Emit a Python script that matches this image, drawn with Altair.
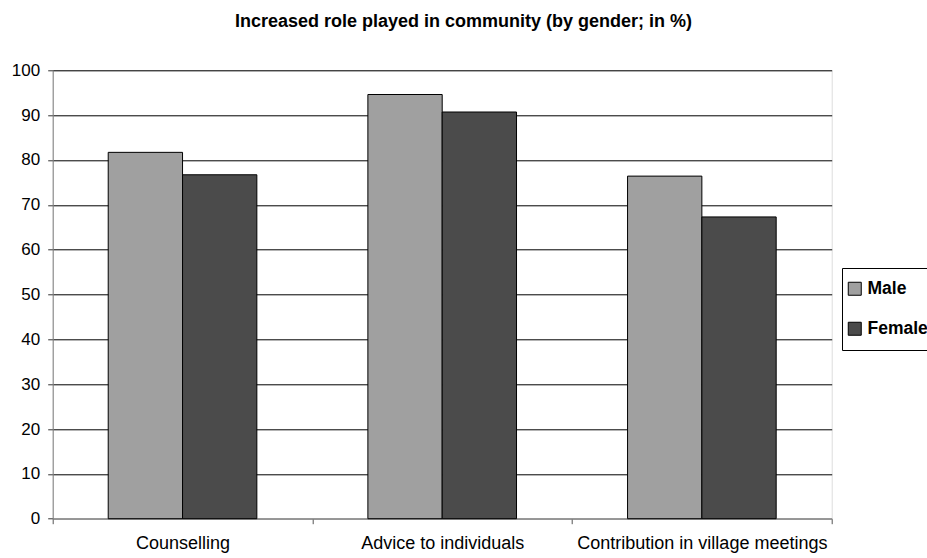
import altair as alt
import pandas as pd

# Share of respondents reporting an increased community role, by gender (%)
categories = ["Counselling", "Advice to individuals", "Contribution in village meetings"]
genders = ["Male", "Female"]
male_pct = [81.7, 94.6, 76.4]
female_pct = [76.7, 90.7, 67.3]

rows = []
for cat, m, f in zip(categories, male_pct, female_pct):
    rows.append({"activity": cat, "gender": "Male", "pct": m})
    rows.append({"activity": cat, "gender": "Female", "pct": f})
df = pd.DataFrame(rows)

FONT = "Liberation Sans"

bars = alt.Chart(df).mark_bar(stroke="black", strokeWidth=1).encode(
    x=alt.X(
        "activity:N",
        sort=categories,
        scale=alt.Scale(paddingInner=0, paddingOuter=0),
        axis=alt.Axis(
            title=None,
            labelAngle=0,
            labelFont=FONT,
            labelFontSize=18,
            labelColor="black",
            labelPadding=11,
            labelLimit=0,
            tickBand="extent",
            tickSize=5,
            tickColor="#555555",
            domainColor="#808080",
            grid=False,
        ),
    ),
    xOffset=alt.XOffset(
        "gender:N",
        sort=genders,
        scale=alt.Scale(paddingInner=0, paddingOuter=0.747),
    ),
    y=alt.Y(
        "pct:Q",
        scale=alt.Scale(domain=[0, 100], nice=False),
        axis=alt.Axis(
            title=None,
            values=list(range(0, 101, 10)),
            labelFont=FONT,
            labelFontSize=17,
            labelColor="black",
            labelPadding=8,
            tickSize=5,
            tickColor="#333333",
            domainColor="#808080",
            grid=True,
            gridColor={
                "condition": {"test": "datum.value === 0", "value": "#808080"},
                "value": "black",
            },
            gridWidth=1,
        ),
    ),
    color=alt.Color(
        "gender:N",
        sort=genders,
        scale=alt.Scale(domain=genders, range=["#A0A0A0", "#4B4B4B"]),
        legend=alt.Legend(
            title=None,
            orient="none",
            legendX=789.3,
            legendY=197.7,
            direction="vertical",
            symbolType="square",
            symbolSize=169,
            symbolStrokeColor="black",
            symbolStrokeWidth=1,
            symbolOffset=-8,
            labelFont=FONT,
            labelFontSize=17.5,
            labelFontWeight="bold",
            labelColor="black",
            labelOffset=4,
            rowPadding=21,
            padding=12,
            strokeColor="black",
            fillColor="white",
        ),
    ),
)

chart = bars.properties(
    width=779,
    height=448.4,
    autosize=alt.AutoSizeParams(type="none"),
    padding={"left": 52.7, "top": 70.3, "right": 95.3, "bottom": 39.3},
    title=alt.TitleParams(
        "Increased role played in community (by gender; in %)",
        font=FONT,
        fontSize=18,
        fontWeight="bold",
        color="black",
        anchor="middle",
        frame="group",
        dx=21.3,
        offset=30,
    ),
).configure_view(stroke=None).configure(background="white")

chart.save("out.html", embed_options={"renderer": "svg", "actions": False})
